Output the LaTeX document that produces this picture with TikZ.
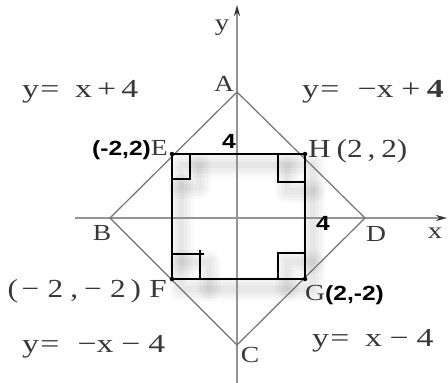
\documentclass[tikz,border=0pt]{standalone}
\usepackage{fontspec}
\setmainfont{Liberation Serif}
\newfontfamily\bsans{Liberation Sans}
\usetikzlibrary{arrows.meta,calc}
\newcommand{\bsf}{\bsans\bfseries\fontsize{20.5}{20.5}\selectfont\color{black}}
\begin{document}
\begin{tikzpicture}[x=1pt,y=-1pt,
  axisline/.style={draw=black!42,line width=2pt},
  diamline/.style={draw=black!55,line width=1.2pt},
  sqline/.style={draw=black,line width=1.7pt},
  marker/.style={draw=black,line width=1.4pt},
  shadowline/.style={draw=black,opacity=0.025,line cap=round,line join=round},
  dotmark/.style={circle,fill=black,inner sep=0pt,minimum size=4.5pt},
  lbl/.style={inner sep=0pt,text=black!78,font=\fontsize{23}{23}\selectfont},
  biglbl/.style={inner sep=0pt,text=black!78,font=\fontsize{26}{26}\selectfont},
  blbl/.style={inner sep=0pt,text=black,font=\bsf},
  eq/.style={biglbl,anchor=base west}
]
\useasboundingbox (0,0) rectangle (448,383);
\fill[white] (0,0) rectangle (448,383);
% points
\coordinate (A) at (237,92);
\coordinate (B) at (110,218);
\coordinate (C) at (237,345);
\coordinate (D) at (365,218);
\coordinate (E) at (172,154);
\coordinate (H) at (305,154);
\coordinate (G) at (305,279);
\coordinate (F) at (172,279);
\coordinate (xs) at (75,218);
\coordinate (xe) at (447,218);
\coordinate (ys) at (237,383);
\coordinate (ye) at (237,5);
% blurred shadow of the square
\foreach \w in {24,18,12,6}{
  \draw[shadowline,line width=\w pt] (181,165) rectangle (313,289);
  \draw[shadowline,line width=\w pt] (181,187) -- (199,187) -- (199,165);
  \draw[shadowline,line width=\w pt] (287,165) -- (287,191) -- (313,191);
  \draw[shadowline,line width=\w pt] (181,262) -- (209,262) -- (209,289);
  \draw[shadowline,line width=\w pt] (287,289) -- (287,262) -- (313,262);
}
% axes
\draw[axisline,-{Stealth[length=11pt,width=6pt,black!80]}] (xs) -- (xe);
\draw[axisline,-{Stealth[length=11pt,width=6pt,black!80]}] (ys) -- (ye);
% diamond
\draw[diamline,line join=miter] (B) -- (A) -- (D) -- (C) -- cycle;
% square
\draw[sqline] (E) -- (H) -- (G) -- (F) -- cycle;
% right angle marks
\draw[marker] ($(E)+(0,25)$) -- ++(18,0) -- ++(0,-25);
\draw[marker] ($(H)+(-27,0)$) -- ++(0,28) -- ++(27,0);
\draw[marker] ($(F)+(0,-25)$) -- ++(32,0);
\draw[marker] ($(F)+(28,-29)$) -- ++(0,29);
\draw[marker] ($(G)+(-27,0)$) -- ++(0,-26) -- ++(27,0);
% dots
\foreach \p in {E,H,G,F} \node[dotmark] at (\p) {};
% labels
\node[lbl] (ylab) at (222,28) {\scalebox{1.25}[1]{y}};
\node[lbl] (xlab) at (435,233) {\scalebox{1.25}[1]{x}};
\node[lbl] (Alab) at (224,84) {\scalebox{1.2}[1]{A}};
\node[lbl] (Blab) at (102,233) {\scalebox{1.2}[1]{B}};
\node[lbl] (Clab) at (250,355) {\scalebox{1.2}[1]{C}};
\node[lbl] (Dlab) at (376,234) {\scalebox{1.2}[1]{D}};
\node[eq] (eq1) at (22,97) {\scalebox{1.3}[1]{y\hspace{1pt}=\hspace{12pt}x\hspace{4pt}+\hspace{4pt}4}};
\node[eq] (eq2) at (302,97) {\scalebox{1.3}[1]{y\hspace{1pt}=\hspace{14pt}−x\hspace{6pt}+\hspace{5pt}\textbf{4}}};
\node[eq] (eq3) at (22,352) {\scalebox{1.3}[1]{y\hspace{1pt}=\hspace{14pt}−x\hspace{6pt}−\hspace{6pt}4}};
\node[eq] (eq4) at (312,346) {\scalebox{1.3}[1]{y\hspace{1pt}=\hspace{12pt}x\hspace{6pt}−\hspace{6pt}4}};
\node[lbl,anchor=base east] (Elab) at (168,155) {{\bsf\scalebox{1.2}[1]{(-2,2)}}\scalebox{1.2}[1]{E}};
\node[biglbl,anchor=base west] (Hlab) at (308,157) {\scalebox{1.2}[1]{H\hspace{5pt}(2\hspace{4pt},\hspace{5pt}2)}};
\node[biglbl,anchor=base east] (Flab) at (167,297) {\scalebox{1.2}[1]{(\hspace{3pt}−\hspace{7pt}2\hspace{6pt},\hspace{5pt}−\hspace{7pt}2\hspace{4pt})\hspace{7pt}F}};
\node[lbl,anchor=base west] (Glab) at (305,300) {\scalebox{1.2}[1]{G}{\bsf\scalebox{1.2}[1]{(2,-2)}}};
\node[blbl] (four1) at (229,141) {\scalebox{1.2}[1]{4}};
\node[blbl] (four2) at (323,223) {\scalebox{1.2}[1]{4}};
\end{tikzpicture}
\end{document}
